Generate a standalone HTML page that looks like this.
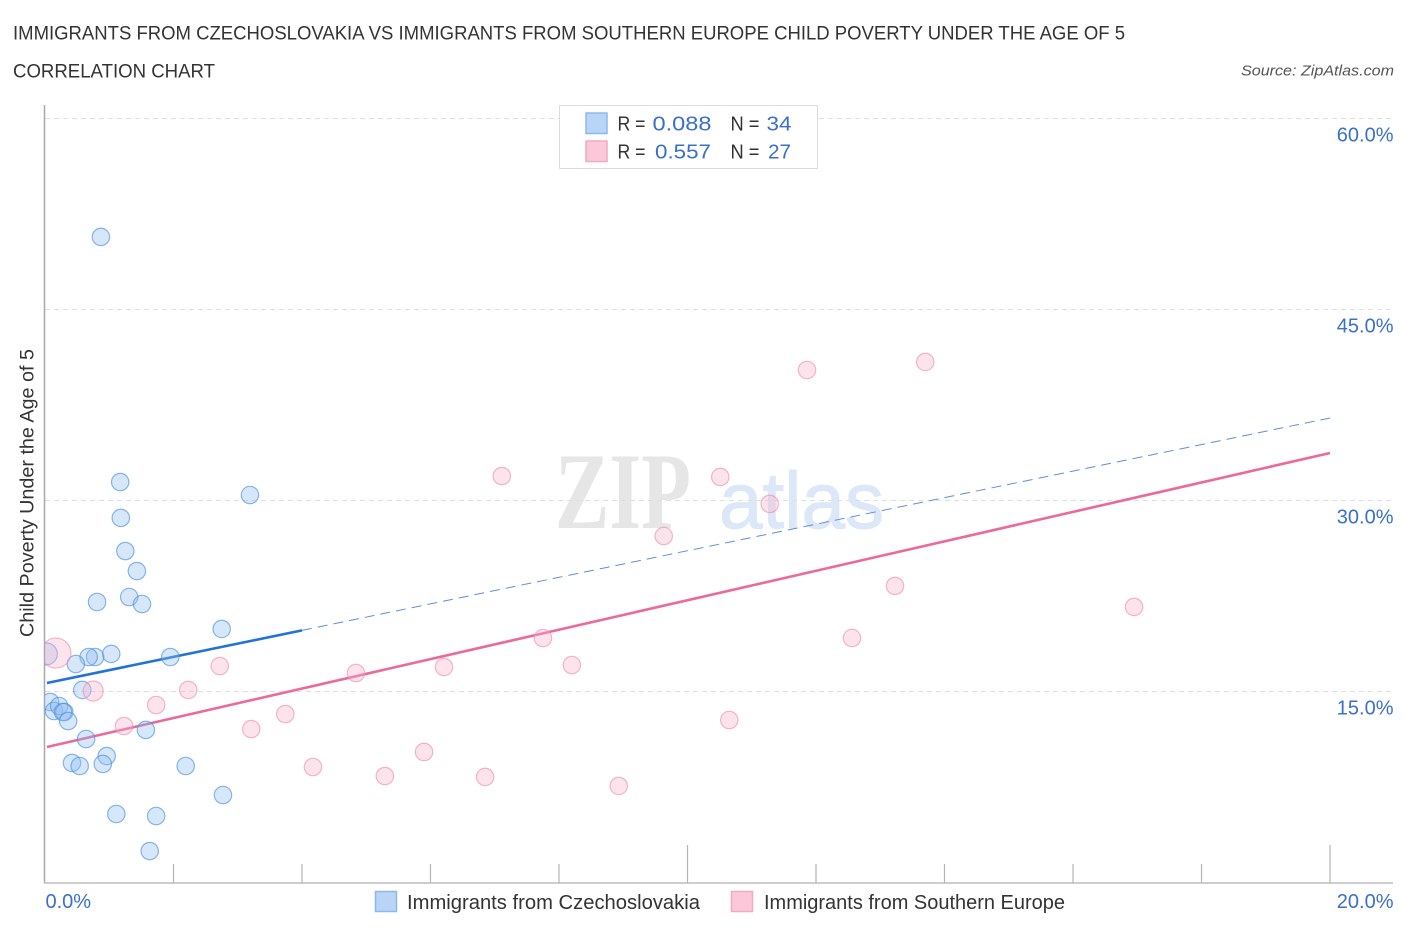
<!DOCTYPE html>
<html>
<head>
<meta charset="utf-8">
<style>
html,body{margin:0;padding:0;background:#fff;}
svg{display:block;font-family:"Liberation Sans",sans-serif;}
</style>
</head>
<body>
<svg id="chart" width="1406" height="930" viewBox="0 0 1406 930" xmlns="http://www.w3.org/2000/svg">
  <defs>
    <clipPath id="plot-clip"><rect x="45" y="100" width="1360" height="783"/></clipPath>
  </defs>
  <rect width="1406" height="930" fill="#fff"/>

  <text x="13" y="39.5" font-size="19" fill="#333" textLength="1112" lengthAdjust="spacingAndGlyphs">IMMIGRANTS FROM CZECHOSLOVAKIA VS IMMIGRANTS FROM SOUTHERN EUROPE CHILD POVERTY UNDER THE AGE OF 5</text>
  <text x="13" y="77.5" font-size="19" fill="#333" textLength="202" lengthAdjust="spacingAndGlyphs">CORRELATION CHART</text>
  <text x="1241" y="75.5" font-size="15" font-style="italic" fill="#555" textLength="153" lengthAdjust="spacingAndGlyphs">Source: ZipAtlas.com</text>

  <g>
    <text x="555" y="528" font-family="'Liberation Serif',serif" font-weight="bold" font-size="109" fill="#e6e6e6" textLength="136" lengthAdjust="spacingAndGlyphs">ZIP</text>
    <text x="719" y="528" font-size="80" fill="#dce8f8" stroke="#dce8f8" stroke-width="1" textLength="165" lengthAdjust="spacingAndGlyphs">atlas</text>
  </g>

  <g id="grid"></g>
  <g id="axes"></g>
  <g id="trends"></g>
  <g id="points" clip-path="url(#plot-clip)"></g>
  <g id="labels"></g>

  <text transform="translate(33.5,637) rotate(-90)" font-size="19.5" fill="#333" textLength="288" lengthAdjust="spacingAndGlyphs">Child Poverty Under the Age of 5</text>

  <g>
    <rect x="559.5" y="105.5" width="258" height="63" fill="#fff" stroke="#dcdcdc" stroke-width="1"/>
    <rect x="586" y="113" width="21" height="20.5" fill="#b9d4f6" stroke="#8fb8ea" stroke-width="1.5"/>
    <rect x="586" y="141" width="21" height="20.5" fill="#fcc8d9" stroke="#f3a9c1" stroke-width="1.5"/>
    <g font-size="20.5">
      <text x="617.5" y="130.5" fill="#333" textLength="28" lengthAdjust="spacingAndGlyphs">R =</text>
      <text x="652.5" y="130.5" fill="#3a70cc" textLength="59" lengthAdjust="spacingAndGlyphs">0.088</text>
      <text x="730.5" y="130.5" fill="#333" textLength="29" lengthAdjust="spacingAndGlyphs">N =</text>
      <text x="766.5" y="130.5" fill="#3a70cc" textLength="25" lengthAdjust="spacingAndGlyphs">34</text>
      <text x="617.5" y="158.5" fill="#333" textLength="28" lengthAdjust="spacingAndGlyphs">R =</text>
      <text x="655" y="158.5" fill="#3a70cc" textLength="56" lengthAdjust="spacingAndGlyphs">0.557</text>
      <text x="730.5" y="158.5" fill="#333" textLength="29" lengthAdjust="spacingAndGlyphs">N =</text>
      <text x="768" y="158.5" fill="#3a70cc" textLength="23" lengthAdjust="spacingAndGlyphs">27</text>
    </g>
  </g>

  <g>
    <rect x="375.5" y="891.5" width="21" height="20" fill="#b9d4f6" stroke="#8fb8ea" stroke-width="1.5"/>
    <text x="407" y="909" font-size="20" fill="#333" textLength="293" lengthAdjust="spacingAndGlyphs">Immigrants from Czechoslovakia</text>
    <rect x="731.5" y="891.5" width="21" height="20" fill="#fcc8d9" stroke="#f3a9c1" stroke-width="1.5"/>
    <text x="764" y="909" font-size="20" fill="#333" textLength="301" lengthAdjust="spacingAndGlyphs">Immigrants from Southern Europe</text>
  </g>
</svg>
<script>
const xTickValues = [0, 2, 4, 6, 8, 10, 12, 14, 16, 18, 20];
const xMajorTicks = [10, 20];
const xTickLabels = ["0.0%", "20.0%"];
const yTickValues = [15, 30, 45, 60];
const yTickLabels = ["15.0%", "30.0%", "45.0%", "60.0%"];

const czechX = [0.87, 1.17, 1.18, 1.25, 1.43, 1.31, 1.51, 0.81, 3.19, 2.75, 1.95, 1.03, 0.78, 0.68, 0.48, 0.02, 0.58, 0.08, 0.14, 0.22, 0.30, 0.28, 0.36, 0.64, 1.57, 0.96, 0.90, 0.42, 0.54, 2.19, 2.77, 1.11, 1.73, 1.63];
const czechY = [50.70, 31.45, 28.63, 26.03, 24.46, 22.42, 21.87, 22.03, 30.43, 19.91, 17.71, 17.95, 17.71, 17.71, 17.16, 17.95, 15.12, 14.18, 13.47, 13.86, 13.39, 13.39, 12.68, 11.27, 11.98, 9.93, 9.31, 9.39, 9.15, 9.15, 6.87, 5.38, 5.22, 2.47];
const czechSize = [1, 1, 1, 1, 1, 1, 1, 1, 1, 1, 1, 1, 1, 1, 1, 1.27, 1, 1, 1, 1, 1, 1, 1, 1, 1, 1, 1, 1, 1, 1, 1, 1, 1, 1];

const europeX = [13.70, 11.86, 7.11, 10.51, 11.28, 9.63, 13.23, 16.95, 7.75, 12.56, 8.20, 6.21, 4.84, 2.72, 2.23, 0.75, 1.73, 1.23, 3.74, 3.21, 10.65, 5.90, 4.17, 5.29, 6.85, 8.93, 0.17];
const europeY = [40.88, 40.25, 31.92, 31.85, 29.73, 27.21, 23.29, 21.64, 19.20, 19.20, 17.08, 16.92, 16.45, 17.00, 15.12, 15.04, 13.94, 12.29, 13.23, 12.05, 12.76, 10.25, 9.07, 8.36, 8.29, 7.58, 18.02];
const europeSize = [1, 1, 1, 1, 1, 1, 1, 1, 1, 1, 1, 1, 1, 1, 1, 1.15, 1, 1, 1, 1, 1, 1, 1, 1, 1, 1, 1.72];

const czechTrendX = [0.03, 4, 20];
const czechTrendY = [15.67, 19.8, 36.48];
const europeTrendX = [0.03, 20];
const europeTrendY = [10.64, 33.73];

const NS = 'http://www.w3.org/2000/svg';
const xScale = function (v) { return 45 + v * 64.25; };
const yScale = function (v) { return 882.5 - v * 12.733; };
const baseRadius = 8.7;

function make(tag, parent, attrs) {
  const el = document.createElementNS(NS, tag);
  Object.keys(attrs).forEach(function (k) { el.setAttribute(k, attrs[k]); });
  parent.appendChild(el);
  return el;
}

const gridG = document.getElementById('grid');
yTickValues.forEach(function (v) {
  const line = make('line', gridG, { x1: 45, x2: 1393, y1: yScale(v), y2: yScale(v), stroke: '#dfdfdf', 'stroke-width': 1, 'stroke-dasharray': '5 4' });
  
  
});

const axesG = document.getElementById('axes');
const yAxis = make('line', axesG, { x1: 44.5, x2: 44.5, y1: 105, y2: 883.5, stroke: '#a8a8a8', 'stroke-width': 1.5 });


const xAxis = make('line', axesG, { x1: 44, x2: 1393, y1: 883, y2: 883, stroke: '#bdbdbd', 'stroke-width': 1.5 });


xTickValues.forEach(function (v) {
  if (v === 0) return;
  const top = xMajorTicks.indexOf(v) >= 0 ? 845 : 864;
  const tick = make('line', axesG, { x1: xScale(v), x2: xScale(v), y1: top, y2: 883, stroke: '#b4b4b4', 'stroke-width': 1.2 });
  
  
});

const labelsG = document.getElementById('labels');
yTickValues.forEach(function (v, i) {
  const t = make('text', labelsG, { x: 1393.5, y: yScale(v) + 23, 'text-anchor': 'end', 'font-size': 20, fill: '#3a70cc' });
  
  
  t.textContent = yTickLabels[i];
});
const x0Label = make('text', labelsG, { x: 45.5, y: 908, 'font-size': 20, fill: '#3a70cc' });


x0Label.textContent = xTickLabels[0];
const x1Label = make('text', labelsG, { x: 1393.5, y: 908, 'text-anchor': 'end', 'font-size': 20, fill: '#3a70cc' });


x1Label.textContent = xTickLabels[1];

const trendG = document.getElementById('trends');
const czechDash = make('line', trendG, { x1: xScale(czechTrendX[1]), y1: yScale(czechTrendY[1]), x2: xScale(czechTrendX[2]), y2: yScale(czechTrendY[2]), stroke: '#5f8fd6', 'stroke-width': 1, 'stroke-dasharray': '10 6' });



const pointsG = document.getElementById('points');
czechX.forEach(function (v, i) {
  const c = make('circle', pointsG, { cx: xScale(v), cy: yScale(czechY[i]), r: baseRadius * czechSize[i], fill: '#8fbcf0', 'fill-opacity': 0.36, stroke: '#4d90e0', 'stroke-opacity': 0.65, 'stroke-width': 1.2 });
  
  
});
europeX.forEach(function (v, i) {
  const c = make('circle', pointsG, { cx: xScale(v), cy: yScale(europeY[i]), r: baseRadius * europeSize[i], fill: '#f9b4cb', 'fill-opacity': 0.36, stroke: '#ee8fb0', 'stroke-opacity': 0.65, 'stroke-width': 1.2 });
  
  
});

const czechSolid = make('line', trendG, { x1: xScale(czechTrendX[0]), y1: yScale(czechTrendY[0]), x2: xScale(czechTrendX[1]), y2: yScale(czechTrendY[1]), stroke: '#2272d9', 'stroke-width': 2.6 });


const europeSolid = make('line', trendG, { x1: xScale(europeTrendX[0]), y1: yScale(europeTrendY[0]), x2: xScale(europeTrendX[1]), y2: yScale(europeTrendY[1]), stroke: '#ea6a99', 'stroke-width': 2.6 });


</script>
</body>
</html>
